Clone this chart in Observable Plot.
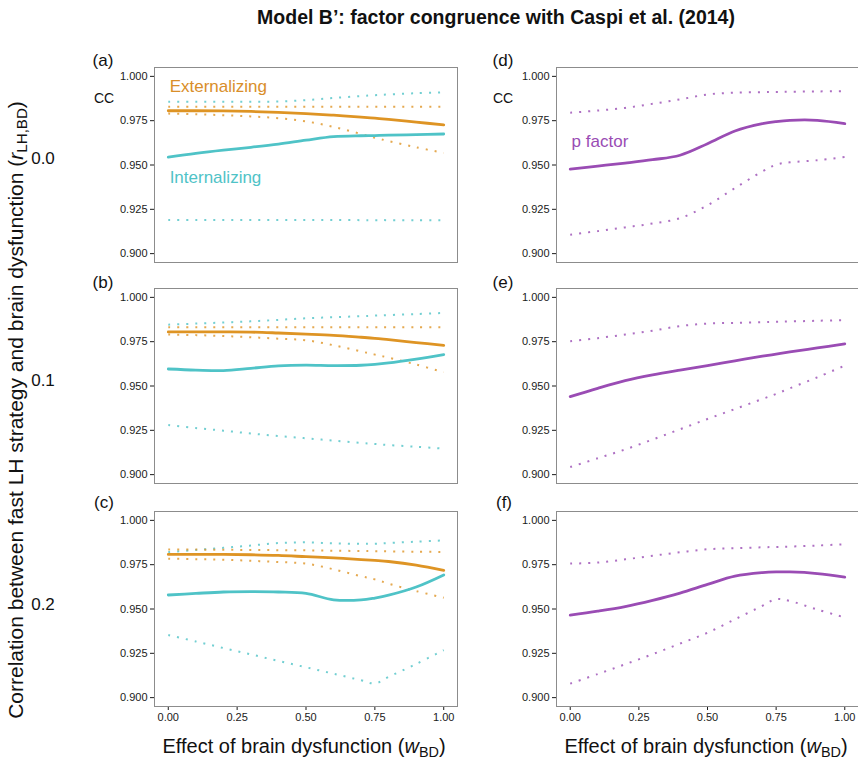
<!DOCTYPE html>
<html>
<head>
<meta charset="utf-8">
<script src="https://cdn.jsdelivr.net/npm/d3@7"></script>
<script src="https://cdn.jsdelivr.net/npm/@observablehq/plot@0.6"></script>
<style>
  html, body { margin: 0; padding: 0; background: #fff; overflow: hidden; }
  #root { position: relative; width: 858px; height: 759px; overflow: hidden; font-family: "Liberation Sans", Arial, Helvetica, sans-serif; color: #111; }
  .abs { position: absolute; white-space: nowrap; line-height: 1; }
  .c { transform: translate(-50%, -50%); }
  .panel { position: absolute; }
  sub { font-size: 0.72em; vertical-align: -0.28em; line-height: 0; }
</style>
</head>
<body>
<div id="root"></div>
<script>
// ---------- data ----------
const wBD = [0, 0.1, 0.2, 0.3, 0.4, 0.5, 0.6, 0.7, 0.75, 0.8, 0.9, 1.0];

// panel (a): r = 0.0
const extA    = [0.9806, 0.9806, 0.9805, 0.9802, 0.9797, 0.9790, 0.9781, 0.9770, 0.9764, 0.9757, 0.9742, 0.9726];
const extA_hi = [0.9828, 0.9828, 0.9828, 0.9828, 0.9828, 0.9828, 0.9828, 0.9828, 0.9828, 0.9828, 0.9828, 0.9828];
const extA_lo = [0.9790, 0.9786, 0.9781, 0.9774, 0.9764, 0.9746, 0.9715, 0.9675, 0.9654, 0.9635, 0.9600, 0.9568];
const intA    = [0.9545, 0.9566, 0.9584, 0.9600, 0.9618, 0.9640, 0.9660, 0.9665, 0.9666, 0.9668, 0.9671, 0.9675];
const intA_hi = [0.9857, 0.9857, 0.9857, 0.9857, 0.9858, 0.9866, 0.9878, 0.9889, 0.9894, 0.9898, 0.9905, 0.9910];
const intA_lo = [0.9190, 0.9190, 0.9190, 0.9190, 0.9190, 0.9190, 0.9190, 0.9189, 0.9189, 0.9189, 0.9188, 0.9188];

// panel (b): r = 0.1
const extB    = [0.9805, 0.9805, 0.9805, 0.9804, 0.9799, 0.9793, 0.9786, 0.9775, 0.9769, 0.9761, 0.9745, 0.9729];
const extB_hi = [0.9831, 0.9831, 0.9831, 0.9831, 0.9831, 0.9831, 0.9831, 0.9831, 0.9831, 0.9831, 0.9831, 0.9831];
const extB_lo = [0.9790, 0.9787, 0.9782, 0.9775, 0.9767, 0.9758, 0.9730, 0.9695, 0.9677, 0.9660, 0.9621, 0.9578];
const intB    = [0.9596, 0.9590, 0.9587, 0.9600, 0.9614, 0.9618, 0.9615, 0.9617, 0.9622, 0.9630, 0.9652, 0.9677];
const intB_hi = [0.9846, 0.9852, 0.9858, 0.9865, 0.9873, 0.9882, 0.9888, 0.9894, 0.9897, 0.9900, 0.9906, 0.9912];
const intB_lo = [0.9280, 0.9263, 0.9248, 0.9232, 0.9218, 0.9205, 0.9192, 0.9179, 0.9173, 0.9167, 0.9157, 0.9147];

// panel (c): r = 0.2
const extC    = [0.9808, 0.9808, 0.9808, 0.9806, 0.9802, 0.9795, 0.9788, 0.9779, 0.9774, 0.9768, 0.9748, 0.9718];
const extC_hi = [0.9835, 0.9835, 0.9834, 0.9833, 0.9832, 0.9831, 0.9829, 0.9827, 0.9826, 0.9825, 0.9823, 0.9822];
const extC_lo = [0.9784, 0.9781, 0.9778, 0.9772, 0.9765, 0.9756, 0.9724, 0.9685, 0.9667, 0.9643, 0.9601, 0.9564];
const intC    = [0.9579, 0.9588, 0.9596, 0.9598, 0.9596, 0.9588, 0.9552, 0.9551, 0.9562, 0.9578, 0.9624, 0.9692];
const intC_hi = [0.9821, 0.9833, 0.9845, 0.9858, 0.9872, 0.9876, 0.9870, 0.9868, 0.9868, 0.9872, 0.9880, 0.9887];
const intC_lo = [0.9353, 0.9317, 0.9280, 0.9244, 0.9207, 0.9171, 0.9135, 0.9098, 0.9080, 0.9117, 0.9190, 0.9268];

// panel (d): p factor, r = 0.0
const pD    = [0.9477, 0.9494, 0.9511, 0.9530, 0.9555, 0.9620, 0.9692, 0.9733, 0.9745, 0.9752, 0.9752, 0.9733];
const pD_hi = [0.9795, 0.9807, 0.9822, 0.9845, 0.9870, 0.9898, 0.9908, 0.9911, 0.9912, 0.9913, 0.9915, 0.9917];
const pD_lo = [0.9107, 0.9127, 0.9148, 0.9170, 0.9200, 0.9273, 0.9370, 0.9464, 0.9502, 0.9515, 0.9527, 0.9545];

// panel (e): p factor, r = 0.1
const pE    = [0.9440, 0.9487, 0.9530, 0.9563, 0.9590, 0.9615, 0.9642, 0.9668, 0.9680, 0.9692, 0.9715, 0.9737];
const pE_hi = [0.9753, 0.9770, 0.9790, 0.9812, 0.9838, 0.9852, 0.9856, 0.9860, 0.9862, 0.9864, 0.9868, 0.9872];
const pE_lo = [0.9043, 0.9092, 0.9142, 0.9198, 0.9256, 0.9314, 0.9370, 0.9427, 0.9455, 0.9487, 0.9549, 0.9615];

// panel (f): p factor, r = 0.2
const pF    = [0.9466, 0.9488, 0.9514, 0.9549, 0.9590, 0.9639, 0.9685, 0.9705, 0.9709, 0.9709, 0.9700, 0.9680];
const pF_hi = [0.9756, 0.9762, 0.9780, 0.9800, 0.9820, 0.9837, 0.9843, 0.9848, 0.9850, 0.9852, 0.9858, 0.9865];
const pF_lo = [0.9079, 0.9133, 0.9188, 0.9245, 0.9305, 0.9366, 0.9442, 0.9518, 0.9556, 0.9545, 0.9497, 0.9452];

const rowLabels = ["0.0", "0.1", "0.2"];
const panelTags = ["(a)", "(b)", "(c)", "(d)", "(e)", "(f)"];
const yTicks = [0.900, 0.925, 0.950, 0.975, 1.000];
const xTicks = [0, 0.25, 0.50, 0.75, 1.00];
const seriesNames = { ext: "Externalizing", int: "Internalizing", p: "p factor" };

const colors = { ext: "#DE9424", int: "#4FC3C7", p: "#9A4CB4" };

// ---------- helpers ----------
const pts = arr => wBD.map((x, i) => ({ x, y: arr[i] }));
const solid = (arr, color) => Plot.line(pts(arr), { x: "x", y: "y", stroke: color, strokeWidth: 2.8, curve: "catmull-rom" });
const dotted = (arr, color) => Plot.line(pts(arr), { x: "x", y: "y", stroke: color, strokeWidth: 2, strokeOpacity: 0.8, strokeDasharray: "2,7", strokeLinecap: "butt", curve: "catmull-rom" });

const root = document.getElementById("root");

function panel({ left, top, width, height, marginLeft, marginRight, bottom, marks }) {
  const chart = Plot.plot({
    width, height,
    marginLeft, marginRight,
    marginTop: 5,
    marginBottom: bottom ? 20 : 5,
    style: { fontFamily: "'Liberation Sans', Arial, Helvetica, sans-serif", fontSize: "11px", color: "#1a1a1a", background: "transparent", overflow: "visible" },
    x: bottom
      ? { domain: [-0.05, 1.05], ticks: xTicks, tickFormat: d3.format(".2f"), tickSize: 4, tickPadding: 3, label: null }
      : { domain: [-0.05, 1.05], axis: null },
    y: { domain: [0.895, 1.005], ticks: yTicks, tickFormat: d3.format(".3f"), tickSize: 4, tickPadding: 3, label: null },
    marks: [
      ...marks,
      Plot.frame({ stroke: "#8c8c8c", strokeWidth: 1 })
    ]
  });
  chart.classList.add("panel");
  chart.style.left = left + "px";
  chart.style.top = top + "px";
  root.appendChild(chart);
}

function addText(html, x, y, style) {
  const d = document.createElement("div");
  d.className = "abs c";
  d.innerHTML = html;
  d.style.left = x + "px";
  d.style.top = y + "px";
  Object.assign(d.style, style || {});
  root.appendChild(d);
  return d;
}

const leftCol = { left: 100, width: 360, marginLeft: 54, marginRight: 3 };
const rightCol = { left: 503, width: 358, marginLeft: 53, marginRight: 3 };
const rowTops = [62, 283, 506];

function behMarks(ext, extHi, extLo, int, intHi, intLo) {
  return [
    dotted(intLo, colors.int),
    dotted(intHi, colors.int),
    dotted(extLo, colors.ext),
    dotted(extHi, colors.ext),
    solid(int, colors.int),
    solid(ext, colors.ext)
  ];
}
function pMarks(p, pHi, pLo) {
  return [dotted(pLo, colors.p), dotted(pHi, colors.p), solid(p, colors.p)];
}
const labelText = (name, color, x, y) => Plot.text([name], { x: () => x, y: () => y, text: d => d, fill: color, fontSize: 17, textAnchor: "start" });

// left column
panel({ ...leftCol, top: rowTops[0], height: 205, bottom: false, marks: [
  ...behMarks(extA, extA_hi, extA_lo, intA, intA_hi, intA_lo),
  labelText(seriesNames.ext, "#D98E2A", 0.005, 0.9943),
  labelText(seriesNames.int, colors.int, 0.005, 0.9430)
]});
panel({ ...leftCol, top: rowTops[1], height: 205, bottom: false, marks: behMarks(extB, extB_hi, extB_lo, intB, intB_hi, intB_lo) });
panel({ ...leftCol, top: rowTops[2], height: 220, bottom: true, marks: behMarks(extC, extC_hi, extC_lo, intC, intC_hi, intC_lo) });

// right column
panel({ ...rightCol, top: rowTops[0], height: 205, bottom: false, marks: [
  ...pMarks(pD, pD_hi, pD_lo),
  labelText(seriesNames.p, colors.p, 0.005, 0.9632)
]});
panel({ ...rightCol, top: rowTops[1], height: 205, bottom: false, marks: pMarks(pE, pE_hi, pE_lo) });
panel({ ...rightCol, top: rowTops[2], height: 220, bottom: true, marks: pMarks(pF, pF_hi, pF_lo) });

// ---------- text ----------
addText("Model B\u2019: factor congruence with Caspi et al. (2014)", 496, 18, { fontWeight: "bold", fontSize: "19.5px" });

addText("Correlation between fast LH strategy and brain dysfunction (<i>r</i><sub>LH,BD</sub>)", 15, 410,
  { fontSize: "21px", transform: "translate(-50%, -50%) rotate(-90deg)" });

const rowCenters = [158, 380, 604];
rowLabels.forEach((t, i) => addText(t, 43, rowCenters[i], { fontSize: "17px" }));

const tagPos = [[103, 60], [103, 282], [104, 502], [503, 60], [503, 282], [504, 502]];
panelTags.forEach((t, i) => addText(t, tagPos[i][0], tagPos[i][1], { fontSize: "17px" }));

addText("CC", 104, 98, { fontSize: "14px" });
addText("CC", 503, 98, { fontSize: "14px" });

addText("Effect of brain dysfunction (<i>w</i><sub>BD</sub>)", 304, 746, { fontSize: "20px" });
addText("Effect of brain dysfunction (<i>w</i><sub>BD</sub>)", 706, 746, { fontSize: "20px" });
</script>
</body>
</html>
